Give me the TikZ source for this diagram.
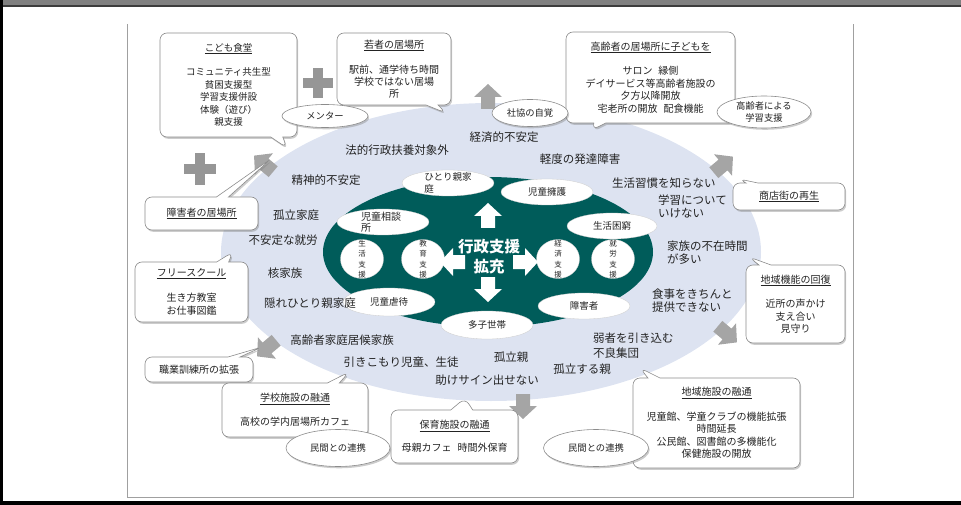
\documentclass[tikz,border=0pt]{standalone}
\usepackage{fontspec}
\setmainfont{Noto Sans CJK JP}
\usetikzlibrary{shapes.geometric,shapes.callouts,shadows}
\definecolor{lightell}{RGB}{221,227,241}
\definecolor{tealc}{RGB}{0,92,90}
\definecolor{boxline}{RGB}{140,140,140}
\definecolor{garrow}{RGB}{165,165,165}
\definecolor{plusgray}{RGB}{150,150,150}
\definecolor{txt}{RGB}{35,35,35}
\definecolor{topgray}{RGB}{128,128,128}
\definecolor{topdark}{RGB}{60,60,60}
\definecolor{framegray}{RGB}{160,160,160}
\begin{document}
\begin{tikzpicture}[x=1pt,y=-1pt,
  callbox/.style={rectangle callout, draw=boxline, fill=white, line width=0.6pt, rounded corners=7pt,
    callout pointer width=12pt, inner sep=0pt, align=center, text=txt,
    font=\fontsize{10}{12.5}\selectfont,
    drop shadow={shadow xshift=1.2pt, shadow yshift=-1.8pt, opacity=0.4}},
  ovalbox/.style={ellipse, draw=boxline, fill=white, line width=0.6pt, inner sep=0pt, align=center,
    text=txt, font=\fontsize{9.3}{11.5}\selectfont,
    drop shadow={shadow xshift=1.2pt, shadow yshift=-1.8pt, opacity=0.4}},
  innerell/.style={ellipse, fill=white, draw=gray!40, line width=0.3pt, inner sep=0pt,
    minimum width=92pt, minimum height=26pt, text=txt, font=\fontsize{9.5}{11.5}\selectfont},
  incirc/.style={ellipse, fill=white, draw=gray!40, line width=0.3pt, inner sep=0pt,
    minimum width=43pt, minimum height=39pt},
  vtxt/.style={align=center, inner sep=0pt, text=txt, font=\fontsize{7.5}{10.5}\selectfont},
  intxt/.style={align=left, inner sep=0pt, text=txt, font=\fontsize{9.5}{11.5}\selectfont},
  lbl/.style={inner sep=0pt, text=txt, font=\fontsize{11.5}{13}\selectfont},
  lbll/.style={lbl, align=left, anchor=west},
  blockarr/.pic={\path[pic actions] (-12,-7) -- (0,-7) -- (0,-14) -- (13,0) -- (0,14) -- (0,7) -- (-12,7) -- cycle;}
]
\useasboundingbox (0,0) rectangle (961,505);
% page frame
\fill[topgray] (0,0) rectangle (961,5.5);
\fill[topdark] (0,5.5) rectangle (961,7.5);
\fill[black] (0,0) rectangle (3,505);
\fill[black] (0,501) rectangle (961,505);
\draw[framegray, line width=1pt] (127.5,24) -- (127.5,497) -- (853,497) -- (853,24);

% big ellipses
\node[ellipse, fill=lightell, minimum width=540pt, minimum height=298pt, inner sep=0pt] (bigell) at (491,252) {};
\node[ellipse, fill=tealc, minimum width=330pt, minimum height=150pt, inner sep=0pt] (tealell) at (488,252) {};

% inner ellipses
\node[innerell] (hitori) at (448,183) {};
\node[intxt] (hitoritxt) at (448,183) {ひとり親家\\庭};
\node[innerell] (yogo) at (547,192) {児童擁護};
\node[innerell] (sodan) at (383,222) {};
\node[intxt, font=\fontsize{10}{11.5}\selectfont] (sodantxt) at (381,222) {児童相談\\所};
\node[innerell, minimum width=90pt] (konkyu) at (612,226) {生活困窮};
\node[innerell, minimum height=28pt] (gyakutai) at (389,302) {児童虐待};
\node[innerell] (shogaisha) at (584,306) {障害者};
\node[innerell, minimum height=28pt] (tashi) at (487,325) {多子世帯};

\node[incirc] (c1) at (362,259) {};
\node[vtxt] (c1t) at (362,259) {生\\活\\支\\援};
\node[incirc] (c2) at (423,259) {};
\node[vtxt] (c2t) at (423,259) {教\\育\\支\\援};
\node[incirc] (c3) at (558,259) {};
\node[vtxt] (c3t) at (558,259) {経\\済\\支\\援};
\node[incirc] (c4) at (613,259) {};
\node[vtxt] (c4t) at (613,259) {就\\労\\支\\援};

% white arrows
\pic[fill=white, rotate=90] at (488,216) {blockarr};
\pic[fill=white, rotate=-90] at (488,289) {blockarr};
\pic[fill=white, rotate=180] at (453,262) {blockarr};
\pic[fill=white] at (525,262) {blockarr};
\node[align=center, inner sep=0pt, text=white, font=\fontsize{15.5}{20}\selectfont\bfseries] (center) at (489,257) {行政支援\\拡充};

% outer labels
\node[lbl] (l1) at (397,150) {法的行政扶養対象外};
\node[lbl] (l2) at (504,137) {経済的不安定};
\node[lbl] (l3) at (580,159) {軽度の発達障害};
\node[lbl] (l4) at (326,180) {精神的不安定};
\node[lbll] (l5) at (612,183) {生活習慣を知らない};
\node[lbll] (l6) at (658,206.5) {学習について\\いけない};
\node[lbl] (l7) at (296,215) {孤立家庭};
\node[lbl] (l8) at (283,240) {不安定な就労};
\node[lbl] (l9) at (285,273) {核家族};
\node[lbl] (l10) at (310,303) {隠れひとり親家庭};
\node[lbll] (l11) at (667,253) {家族の不在時間\\が多い};
\node[lbll] (l12) at (652,301) {食事をきちんと\\提供できない};
\node[lbl] (l13) at (342,340) {高齢者家庭居候家族};
\node[lbl] (l14) at (401,362) {引きこもり児童、生徒};
\node[lbl] (l15) at (511,357) {孤立親};
\node[lbl] (l16) at (487,380) {助けサイン出せない};
\node[lbll, font=\fontsize{11.5}{14.5}\selectfont] (l17) at (593,345.5) {弱者を引き込む\\不良集団};
\node[lbl] (l18) at (582,369) {孤立する親};

% gray arrows
\pic[fill=garrow, rotate=90] at (488,97) {blockarr};
\pic[fill=garrow, rotate=140] at (264,164) {blockarr};
\pic[fill=garrow, rotate=40] at (723,165) {blockarr};
\pic[fill=garrow, rotate=-40] at (727,334) {blockarr};
\pic[fill=garrow, rotate=-90] at (523,406) {blockarr};
\pic[fill=garrow, rotate=220] at (267,348) {blockarr};

% plus signs
\fill[plusgray] (303,78) rectangle (333,88);
\fill[plusgray] (313,68) rectangle (323,98);
\fill[plusgray] (184,164) rectangle (216,174);
\fill[plusgray] (195,153) rectangle (205,185);

% callout tips
\coordinate (tk) at (287,148);
\coordinate (tw) at (446,113);
\coordinate (tr) at (592,130);
\coordinate (ts) at (272,158);
\coordinate (tf) at (233,252);
\coordinate (tsh) at (262,347);
\coordinate (tg) at (349,372);
\coordinate (th) at (465,398);
\coordinate (tc) at (640,368);
\coordinate (tsg) at (739,179);
\coordinate (tck) at (749,257);

% callout boxes
\node[callbox, minimum width=137pt, minimum height=104pt, callout absolute pointer={(tk)}, font=\fontsize{9.5}{12.5}\selectfont] (kodomo) at (228.5,85)
  {\underline{こども食堂}\\[12pt]コミュニティ共生型\\貧困支援型\\学習支援併設\\体験（遊び）\\親支援};
\node[callbox, minimum width=114pt, minimum height=72pt, callout absolute pointer={(tw)}, font=\fontsize{10}{12}\selectfont] (wakamono) at (394,69)
  {\underline{若者の居場所}\\[13pt]駅前、通学待ち時間\\学校ではない居場\\所};
\node[callbox, minimum width=169pt, minimum height=91pt, callout absolute pointer={(tr)}] (koreisha) at (650.5,77.5)
  {\underline{高齢者の居場所に子どもを}\\[12pt]サロン\hspace{0.6em}縁側\\デイサービス等高齢者施設の\\夕方以降開放\\宅老所の開放\hspace{0.6em}配食機能};
\node[callbox, minimum width=113pt, minimum height=33pt, callout absolute pointer={(ts)}] (shogai) at (201.5,213.5)
  {\underline{障害者の居場所}};
\node[callbox, minimum width=113pt, minimum height=60pt, callout absolute pointer={(tf)}, font=\fontsize{10}{13}\selectfont] (free) at (191.5,292)
  {\underline{フリースクール}\\[12pt]生き方教室\\お仕事図鑑};
\node[callbox, minimum width=108pt, minimum height=25pt, callout absolute pointer={(tsh)}] (shokugyo) at (199,369.5)
  {職業訓練所の拡張};
\node[callbox, minimum width=146pt, minimum height=54pt, callout absolute pointer={(tg)}] (gakko) at (295,410)
  {\underline{学校施設の融通}\\[11.5pt]高校の学内居場所カフェ};
\node[callbox, minimum width=127pt, minimum height=53pt, callout absolute pointer={(th)}, callout pointer width=22pt] (hoiku) at (454.5,436.5)
  {\underline{保育施設の融通}\\[10.5pt]母親カフェ\hspace{0.6em}時間外保育};
\node[callbox, minimum width=167pt, minimum height=90pt, callout absolute pointer={(tc)}] (chiiki) at (716.5,423)
  {\underline{地域施設の融通}\\[12pt]児童館、学童クラブの機能拡張\\時間延長\\公民館、図書館の多機能化\\保健施設の開放};
\node[callbox, minimum width=112pt, minimum height=27pt, callout absolute pointer={(tsg)}] (shotengai) at (789,196.5)
  {\underline{商店街の再生}};
\node[callbox, minimum width=99pt, minimum height=78pt, callout absolute pointer={(tck)}] (kino) at (795.5,304)
  {\underline{地域機能の回復}\\[12pt]近所の声かけ\\支え合い\\見守り};

% oval boxes
\node[ovalbox, minimum width=86pt, minimum height=23pt] (mentor) at (325,116) {メンター};
\node[ovalbox, minimum width=76pt, minimum height=27pt] (shakyo) at (530,113) {社協の自覚};
\node[ovalbox, minimum width=94pt, minimum height=32pt] (gakushu) at (764,112) {};
\node[align=center, inner sep=0pt, text=txt, font=\fontsize{9.3}{12}\selectfont] (gakushutxt) at (764,112) {高齢者による\\学習支援};
\node[ovalbox, minimum width=104pt, minimum height=37pt] (minkan1) at (338,448) {民間との連携};
\node[ovalbox, minimum width=105pt, minimum height=37pt] (minkan2) at (596,448) {民間との連携};
\end{tikzpicture}
\end{document}
